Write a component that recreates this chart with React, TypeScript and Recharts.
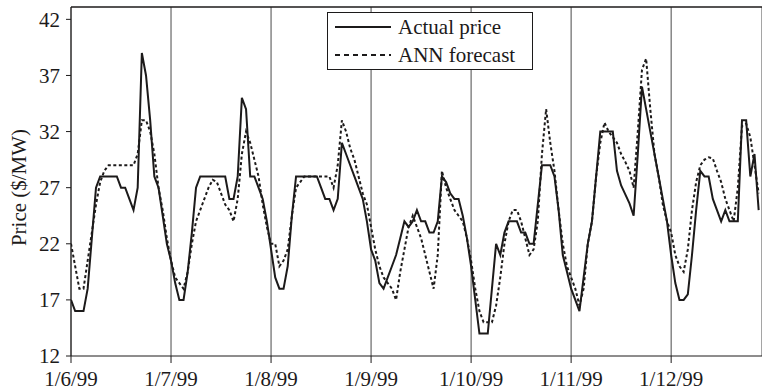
import { LineChart, Line, XAxis, YAxis, CartesianGrid, Legend, ReferenceLine } from 'recharts';

// hourly prices starting at midnight 1/6/99
const actualPrice = [
  17, 16, 16, 16, 18, 22.5, 27, 28, 28, 28, 28, 28, 27, 27, 26, 25, 27, 39, 37, 33, 28, 27, 24.5, 22,
  20.5, 18.5, 17, 17, 19.5, 23, 27, 28, 28, 28, 28, 28, 28, 28, 26, 26, 28, 35, 34, 28, 28, 27, 26, 24,
  21.5, 19, 18, 18, 20, 24.5, 28, 28, 28, 28, 28, 28, 27, 26, 26, 25, 26, 31, 30, 29, 28, 27, 26, 24,
  21.5, 20.5, 18.5, 18, 19, 20, 21, 22.5, 24, 23.5, 24, 25, 24, 24, 23, 23, 24, 28, 27.5, 26.5, 26, 26, 24.5, 22.5,
  20, 17, 14, 14, 14, 18, 22, 21, 23, 24, 24, 24, 23, 23, 22, 22, 25.5, 29, 29, 29, 28, 25, 21, 19.5,
  18, 17, 16, 19, 22, 24, 28, 32, 32, 32, 32, 28.5, 27.2, 26.4, 25.6, 24.5, 30, 36, 34, 32, 30, 28, 26, 24,
  21, 18.5, 17, 17, 17.5, 21, 25, 28.5, 28, 28, 26, 25, 24, 25, 24, 24, 24, 33, 33, 28, 30, 25,
];

const annForecast = [
  22, 20, 18, 18, 20.5, 23, 25.5, 27.5, 28.5, 29, 29, 29, 29, 29, 29, 29, 30, 33, 33, 32, 30, 27, 25, 22.5,
  20.5, 19, 18.5, 18, 19.5, 22, 24, 25, 26, 27, 27.7, 27.5, 26.5, 25.5, 25, 24, 26, 30, 32, 31, 29.5, 28, 25.5, 23.5,
  22, 22, 20, 20.5, 21.5, 24.5, 27, 27.5, 28, 28, 28, 28, 28, 28, 28, 27, 29, 33, 32, 30.5, 29.5, 28, 26.5, 25.5,
  23.5, 21.5, 20, 19, 18.5, 18, 17, 19.5, 21.5, 23.5, 24.5, 23.5, 22.5, 21, 19.5, 18, 21, 28.5, 27, 26, 25, 24.5, 24, 22.5,
  20.5, 18, 16, 15, 15, 15, 16.5, 19, 22, 24, 25, 25, 24, 22.5, 21, 21.5, 24, 30, 34, 31, 28.5, 25, 22, 20,
  19, 18, 16.5, 18, 22, 24, 28, 31, 32.8, 32, 31.5, 31, 30, 29.3, 28.5, 27, 32, 37.5, 38.5, 34, 30, 28, 25.5, 24,
  23, 21, 20, 19.5, 21.5, 25, 27.5, 29, 29.5, 29.7, 29.6, 28.5, 27.5, 26, 25, 24, 27, 32.5, 32.7, 31.5, 29, 26.5,
];

const dayLabels = ['1/6/99', '1/7/99', '1/8/99', '1/9/99', '1/10/99', '1/11/99', '1/12/99'];
const dayTicks = dayLabels.map((_, i) => i * 24);
const priceTicks = [12, 17, 22, 27, 32, 37, 42];

const Y_MAX = 43.1;
const X_MAX = 165.8;
const FONT = '"Liberation Serif", "Times New Roman", serif';
const INK = '#1c1a1a';

const data = actualPrice.map((v, i) => ({ hour: i, actual: v, forecast: annForecast[i] }));

function LegendBox() {
  const rows = [
    { label: 'Actual price', dash: undefined },
    { label: 'ANN forecast', dash: '5 4' },
  ];
  return (
    <div
      style={{
        border: `1px solid ${INK}`,
        background: '#fff',
        width: 204,
        height: 56,
        boxSizing: 'content-box',
        fontFamily: FONT,
        fontSize: 21,
        color: INK,
      }}
    >
      {rows.map(r => (
        <div key={r.label} style={{ display: 'flex', alignItems: 'center', height: 28, lineHeight: '28px' }}>
          <svg width={70} height={10} style={{ display: 'block' }}>
            <line x1={7} x2={63} y1={5} y2={5} stroke={INK} strokeWidth={2} strokeDasharray={r.dash} />
          </svg>
          <span style={{ whiteSpace: 'nowrap' }}>{r.label}</span>
        </div>
      ))}
    </div>
  );
}

function PriceLabel({ viewBox }: any) {
  const cx = viewBox.x + 19;
  const cy = viewBox.y + viewBox.height / 2 + 6;
  return (
    <text
      x={cx}
      y={cy}
      transform={`rotate(-90 ${cx} ${cy})`}
      textAnchor="middle"
      dominantBaseline="central"
      fill={INK}
      fontFamily={FONT}
      fontSize={21}
    >
      Price ($/MW)
    </text>
  );
}

export default function App() {
  return (
    <div style={{ position: 'absolute', left: 0, top: 0, width: 762, height: 392, background: '#fff', fontFamily: FONT }}>
      <style>{'body{margin:0} .recharts-text{font-family:"Liberation Serif","Times New Roman",serif}'}</style>
      <LineChart
        width={762}
        height={392}
        data={data}
        margin={{ top: 7, right: 0, left: 0, bottom: 0 }}
        style={{ fontFamily: FONT }}
      >
        <CartesianGrid horizontal={false} stroke="#4a4a4a" strokeWidth={1} />
        <XAxis
          dataKey="hour"
          type="number"
          domain={[0, X_MAX]}
          ticks={dayTicks}
          allowDataOverflow
          tickFormatter={(v: number) => dayLabels[Math.round(v / 24)] ?? ''}
          height={36}
          tickSize={7}
          tickMargin={8}
          stroke={INK}
          tick={{ fill: INK, fontSize: 21, fontFamily: FONT }}
          interval={0}
        />
        <YAxis
          type="number"
          domain={[12, Y_MAX]}
          ticks={priceTicks}
          allowDataOverflow
          width={71}
          tickSize={5}
          tickMargin={6}
          stroke={INK}
          tick={{ fill: INK, fontSize: 21, fontFamily: FONT }}
          label={(props: any) => <PriceLabel {...props} />}
        />
        <ReferenceLine y={Y_MAX} stroke={INK} strokeWidth={1.5} />
        <Legend
          layout="vertical"
          align="center"
          verticalAlign="middle"
          wrapperStyle={{ left: 327, top: 12, width: 206 }}
          content={() => <LegendBox />}
        />
        <Line
          type="linear"
          dataKey="forecast"
          stroke={INK}
          strokeWidth={2}
          strokeDasharray="3 2.5"
          dot={false}
          isAnimationActive={false}
          name="ANN forecast"
        />
        <Line
          type="linear"
          dataKey="actual"
          stroke={INK}
          strokeWidth={2}
          dot={false}
          isAnimationActive={false}
          name="Actual price"
        />
      </LineChart>
    </div>
  );
}
